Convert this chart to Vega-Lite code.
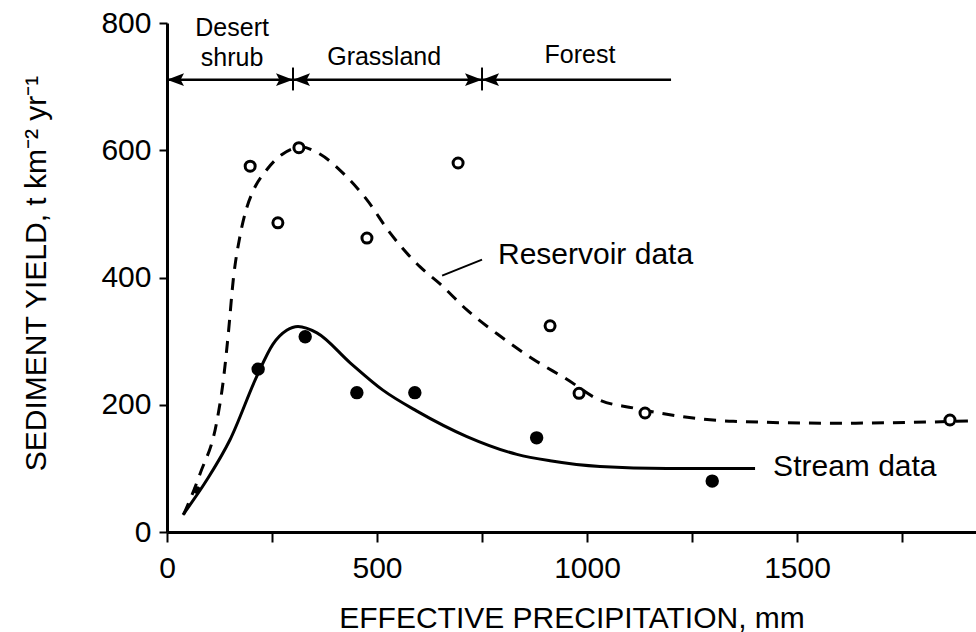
{
  "$schema": "https://vega.github.io/schema/vega-lite/v6.json",
  "width": 809,
  "height": 509,
  "autosize": {"type": "none"},
  "padding": {"left": 167, "top": 23, "right": 0, "bottom": 100},
  "background": "white",
  "config": {
    "view": {"stroke": null},
    "font": "Liberation Sans",
    "axis": {
      "grid": false,
      "domainColor": "black",
      "tickColor": "black",
      "labelColor": "black",
      "titleColor": "black",
      "labelFont": "Liberation Sans",
      "titleFont": "Liberation Sans",
      "labelFontSize": 30,
      "titleFontSize": 30,
      "titleFontWeight": "normal",
      "domainWidth": 3,
      "tickWidth": 2
    }
  },
  "datasets": {
    "curves": [
      {"series": "Stream", "x": 38, "y": 27},
      {"series": "Stream", "x": 95, "y": 82},
      {"series": "Stream", "x": 150, "y": 145},
      {"series": "Stream", "x": 214, "y": 245},
      {"series": "Stream", "x": 252, "y": 295},
      {"series": "Stream", "x": 285, "y": 317},
      {"series": "Stream", "x": 312, "y": 323},
      {"series": "Stream", "x": 357, "y": 313},
      {"series": "Stream", "x": 436, "y": 266},
      {"series": "Stream", "x": 514, "y": 223},
      {"series": "Stream", "x": 595, "y": 190},
      {"series": "Stream", "x": 714, "y": 150},
      {"series": "Stream", "x": 833, "y": 122},
      {"series": "Stream", "x": 912, "y": 112},
      {"series": "Stream", "x": 1031, "y": 103},
      {"series": "Stream", "x": 1190, "y": 100},
      {"series": "Stream", "x": 1400, "y": 100},
      {"series": "Reservoir", "x": 40, "y": 28},
      {"series": "Reservoir", "x": 79, "y": 92},
      {"series": "Reservoir", "x": 119, "y": 175},
      {"series": "Reservoir", "x": 134, "y": 238},
      {"series": "Reservoir", "x": 146, "y": 312},
      {"series": "Reservoir", "x": 158, "y": 398},
      {"series": "Reservoir", "x": 174, "y": 466},
      {"series": "Reservoir", "x": 190, "y": 510},
      {"series": "Reservoir", "x": 205, "y": 536},
      {"series": "Reservoir", "x": 237, "y": 569},
      {"series": "Reservoir", "x": 273, "y": 593},
      {"series": "Reservoir", "x": 320, "y": 605},
      {"series": "Reservoir", "x": 364, "y": 594},
      {"series": "Reservoir", "x": 419, "y": 564},
      {"series": "Reservoir", "x": 476, "y": 522},
      {"series": "Reservoir", "x": 531, "y": 470},
      {"series": "Reservoir", "x": 602, "y": 417},
      {"series": "Reservoir", "x": 650, "y": 390},
      {"series": "Reservoir", "x": 714, "y": 349},
      {"series": "Reservoir", "x": 793, "y": 308},
      {"series": "Reservoir", "x": 871, "y": 272},
      {"series": "Reservoir", "x": 952, "y": 240},
      {"series": "Reservoir", "x": 1031, "y": 207},
      {"series": "Reservoir", "x": 1110, "y": 195},
      {"series": "Reservoir", "x": 1190, "y": 185},
      {"series": "Reservoir", "x": 1348, "y": 174},
      {"series": "Reservoir", "x": 1586, "y": 171},
      {"series": "Reservoir", "x": 1824, "y": 173},
      {"series": "Reservoir", "x": 1926, "y": 175}
    ],
    "points": [
      {"series": "Reservoir", "x": 198, "y": 575},
      {"series": "Reservoir", "x": 264, "y": 486},
      {"series": "Reservoir", "x": 314, "y": 604},
      {"series": "Reservoir", "x": 476, "y": 462},
      {"series": "Reservoir", "x": 693, "y": 580},
      {"series": "Reservoir", "x": 912, "y": 324},
      {"series": "Reservoir", "x": 981, "y": 218},
      {"series": "Reservoir", "x": 1138, "y": 187},
      {"series": "Reservoir", "x": 1864, "y": 176},
      {"series": "Stream", "x": 217, "y": 256},
      {"series": "Stream", "x": 329, "y": 307},
      {"series": "Stream", "x": 452, "y": 219},
      {"series": "Stream", "x": 590, "y": 219},
      {"series": "Stream", "x": 880, "y": 148},
      {"series": "Stream", "x": 1298, "y": 80},
      {"series": "Shared", "x": 71, "y": 66}
    ],
    "zoneLine": [{"x": 0, "x2": 1200, "y": 711}],
    "zoneDividers": [
      {"x": 300, "y": 694, "y2": 730},
      {"x": 750, "y": 694, "y2": 730}
    ],
    "arrowheads": [
      {"x": 0, "y": 711, "dir": "left"},
      {"x": 300, "y": 711, "dir": "right"},
      {"x": 300, "y": 711, "dir": "left"},
      {"x": 750, "y": 711, "dir": "right"},
      {"x": 750, "y": 711, "dir": "left"}
    ],
    "zoneLabels": [
      {"x": 155, "y": 792, "label": "Desert"},
      {"x": 155, "y": 745, "label": "shrub"},
      {"x": 517, "y": 747, "label": "Grassland"},
      {"x": 983, "y": 750, "label": "Forest"}
    ],
    "curveLabels": [
      {"x": 788, "y": 435, "label": "Reservoir data"},
      {"x": 1443, "y": 102, "label": "Stream data"}
    ],
    "leader": [{"x": 655, "y": 403, "x2": 750, "y2": 428}]
  },
  "encoding": {
    "x": {
      "field": "x",
      "type": "quantitative",
      "scale": {"domain": [0, 1926], "nice": false, "zero": false},
      "axis": {
        "title": "EFFECTIVE PRECIPITATION, mm",
        "values": [0, 250, 500, 750, 1000, 1250, 1500, 1750],
        "labelExpr": "datum.value % 500 === 0 ? datum.label : ''",
        "format": "d",
        "tickSize": 10,
        "labelPadding": 11,
        "labelFlush": false,
        "titleBaseline": "alphabetic",
        "titleY": 95
      }
    },
    "y": {
      "field": "y",
      "type": "quantitative",
      "scale": {"domain": [0, 800], "nice": false},
      "axis": {
        "title": "SEDIMENT YIELD, t km⁻² yr⁻¹",
        "values": [0, 200, 400, 600, 800],
        "tickSize": 8,
        "labelPadding": 8,
        "titleAngle": 270,
        "titleAlign": "center",
        "titleBaseline": "alphabetic",
        "titleX": -122,
        "titleY": 250
      }
    }
  },
  "layer": [
    {
      "data": {"name": "curves"},
      "transform": [{"filter": "datum.series === 'Stream'"}],
      "mark": {"type": "line", "interpolate": "monotone", "color": "black", "strokeWidth": 3}
    },
    {
      "data": {"name": "curves"},
      "transform": [{"filter": "datum.series === 'Reservoir'"}],
      "mark": {"type": "line", "interpolate": "monotone", "color": "black", "strokeWidth": 3, "strokeDash": [12, 9]}
    },
    {
      "data": {"name": "points"},
      "transform": [{"filter": "datum.series === 'Reservoir'"}],
      "mark": {"type": "point", "shape": "circle", "filled": true, "fill": "white", "stroke": "black", "strokeWidth": 3, "size": 100, "opacity": 1}
    },
    {
      "data": {"name": "points"},
      "transform": [{"filter": "datum.series === 'Stream'"}],
      "mark": {"type": "circle", "color": "black", "size": 180, "opacity": 1}
    },
    {
      "data": {"name": "points"},
      "transform": [{"filter": "datum.series === 'Shared'"}],
      "mark": {"type": "circle", "color": "black", "size": 55, "opacity": 1}
    },
    {
      "data": {"name": "zoneLine"},
      "mark": {"type": "rule", "color": "black", "strokeWidth": 2.5},
      "encoding": {"x2": {"field": "x2"}}
    },
    {
      "data": {"name": "zoneDividers"},
      "mark": {"type": "rule", "color": "black", "strokeWidth": 2},
      "encoding": {"y2": {"field": "y2"}}
    },
    {
      "data": {"name": "arrowheads"},
      "mark": {"type": "point", "filled": true, "color": "black", "strokeWidth": 0, "size": 1156, "opacity": 1},
      "encoding": {
        "shape": {
          "field": "dir",
          "type": "nominal",
          "scale": {
            "domain": ["left", "right"],
            "range": ["M0,0L1,-0.38L0.8,0L1,0.38Z", "M0,0L-1,-0.38L-0.8,0L-1,0.38Z"]
          },
          "legend": null
        }
      }
    },
    {
      "data": {"name": "leader"},
      "mark": {"type": "rule", "color": "black", "strokeWidth": 2},
      "encoding": {"x2": {"field": "x2"}, "y2": {"field": "y2"}}
    },
    {
      "data": {"name": "zoneLabels"},
      "mark": {"type": "text", "font": "Liberation Sans", "fontSize": 25, "color": "black", "align": "center", "baseline": "middle"},
      "encoding": {"text": {"field": "label"}}
    },
    {
      "data": {"name": "curveLabels"},
      "mark": {"type": "text", "font": "Liberation Sans", "fontSize": 30, "color": "black", "align": "left", "baseline": "middle"},
      "encoding": {"text": {"field": "label"}}
    }
  ]
}
